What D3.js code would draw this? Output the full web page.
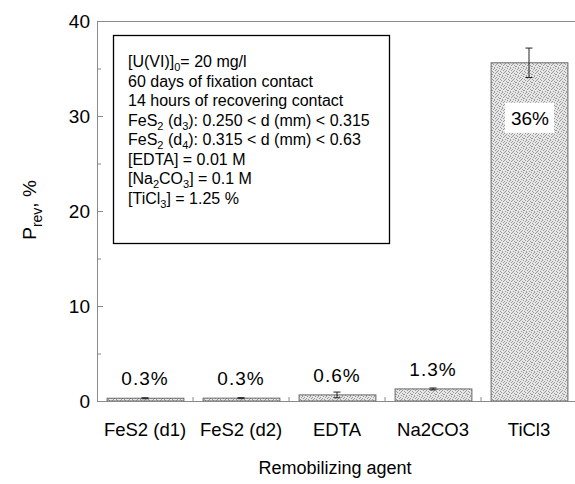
<!DOCTYPE html>
<html>
<head>
	<meta charset="utf-8">
	<title>Remobilization</title>
	<style>
		body { margin: 0; background: #fff; }
		svg { display: block; font-family: 'Liberation Sans', Arial, sans-serif; }
		.axis path, .axis line { stroke: #8a8a8a; }
		.axis text { font-size: 19px; fill: #000; }
	</style>
</head>
<body>
	<svg width="575" height="484"></svg>
<script src="https://d3js.org/d3.v7.min.js"></script>
<script>

	// data
	const categories = ['FeS2 (d1)', 'FeS2 (d2)', 'EDTA', 'Na2CO3', 'TiCl3']
	const values = [0.29, 0.3, 0.64, 1.27, 35.6]
	const errors = [0.05, 0.05, 0.3, 0.1, 1.55]
	const valueLabels = ['0.3%', '0.3%', '0.6%', '1.3%', '36%']
	const yTicks = [0, 10, 20, 30, 40]
	const yMinorTicks = [5, 15, 25, 35]

	// legend lines: [text, isSubscript]
	const notes = [
		[['[U(VI)]', 0], ['0', 1], ['= 20 mg/l', 0]],
		[['60 days of fixation contact', 0]],
		[['14 hours of recovering contact', 0]],
		[['FeS', 0], ['2', 1], [' (d', 0], ['3', 1], ['): 0.250 < d (mm) < 0.315', 0]],
		[['FeS', 0], ['2', 1], [' (d', 0], ['4', 1], ['): 0.315 < d (mm) < 0.63', 0]],
		[['[EDTA] = 0.01 M', 0]],
		[['[Na', 0], ['2', 1], ['CO', 0], ['3', 1], ['] = 0.1 M', 0]],
		[['[TiCl', 0], ['3', 1], ['] = 1.25 %', 0]]
	]

	const mLeft = 97, mRight = 577, mTop = 21, mBottom = 401

	const svg = d3.select('svg')

	// stippled fill (fixed dot layout in an 8x8 tile)
	const defs = svg.append('defs')
	const pat = defs.append('pattern')
		.attr('id', 'stipple')
		.attr('patternUnits', 'userSpaceOnUse')
		.attr('width', 8).attr('height', 8)
	pat.append('rect').attr('width', 8).attr('height', 8).attr('fill', '#e6e6e6')
	const dots = [[0,0],[5,0],[2,1],[7,1],[4,2],[1,3],[6,3],[3,4],[0,5],[5,5],
		[2,6],[7,6],[4,7],[1,7],[6,4],[3,2]]
	dots.forEach(p => {
		pat.append('rect').attr('x', p[0]).attr('y', p[1])
			.attr('width', 1).attr('height', 1).attr('fill', '#9a9a9a')
	})

	const x = d3.scaleBand()
		.domain(categories)
		.range([mLeft, mRight])
		.paddingInner(0.2)
		.paddingOuter(0.1)

	const y = d3.scaleLinear()
		.domain([0, 40])
		.range([mBottom, mTop])

	// frame
	svg.append('line')
		.attr('x1', mLeft).attr('x2', 575)
		.attr('y1', mTop + 0.5).attr('y2', mTop + 0.5)
		.attr('stroke', '#8a8a8a')

	// bars
	svg.selectAll('.bar')
		.data(values)
		.join('rect')
		.attr('class', 'bar')
		.attr('x', (d, i) => x(categories[i]) + 0.5)
		.attr('y', d => y(d))
		.attr('width', x.bandwidth())
		.attr('height', d => mBottom - y(d))
		.attr('fill', 'url(#stipple)')
		.attr('stroke', '#666')
		.attr('stroke-width', 1)

	// error bars
	const eb = svg.selectAll('.err')
		.data(values)
		.join('g')
		.attr('class', 'err')
		.attr('stroke', '#222')
		.attr('stroke-width', 1)
	eb.append('line')
		.attr('x1', (d, i) => x(categories[i]) + x.bandwidth() / 2)
		.attr('x2', (d, i) => x(categories[i]) + x.bandwidth() / 2)
		.attr('y1', (d, i) => y(d + errors[i]))
		.attr('y2', (d, i) => y(d - errors[i]))
	eb.selectAll('.cap')
		.data((d, i) => [[d + errors[i], i], [d - errors[i], i]])
		.join('line')
		.attr('x1', d => x(categories[d[1]]) + x.bandwidth() / 2 - 3.5)
		.attr('x2', d => x(categories[d[1]]) + x.bandwidth() / 2 + 3.5)
		.attr('y1', d => y(d[0]))
		.attr('y2', d => y(d[0]))

	// axes
	svg.append('g')
		.attr('class', 'axis')
		.attr('transform', `translate(${mLeft},0)`)
		.call(d3.axisLeft(y).tickValues(yMinorTicks).tickSizeInner(-4).tickSizeOuter(0).tickFormat(''))
		.call(g => g.select('.domain').remove())

	svg.append('g')
		.attr('class', 'axis')
		.attr('transform', `translate(${mLeft},0)`)
		.call(d3.axisLeft(y).tickValues(yTicks).tickSizeInner(-6).tickSizeOuter(0).tickPadding(7))
		.call(g => g.select('.domain').attr('d', `M0.5,${mTop}V${mBottom}`))

	const xAxis = svg.append('g')
		.attr('class', 'axis')
		.attr('transform', `translate(0,${mBottom})`)
		.call(d3.axisBottom(x).tickSize(0).tickPadding(22).tickSizeOuter(0))
	xAxis.select('.domain').attr('d', `M${mLeft},0.5H575`)
	xAxis.selectAll('text').style('font-size', '18.5px')

	// small ticks between categories
	svg.selectAll('.xtick')
		.data(categories.slice(1))
		.join('line')
		.attr('x1', d => x(d) - x.step() * x.paddingInner() / 2)
		.attr('x2', d => x(d) - x.step() * x.paddingInner() / 2)
		.attr('y1', mBottom)
		.attr('y2', mBottom - 4)
		.attr('stroke', '#8a8a8a')

	// value labels
	svg.selectAll('.vlab')
		.data(values.slice(0, 4))
		.join('text')
		.attr('class', 'vlab')
		.attr('x', (d, i) => x(categories[i]) + x.bandwidth() / 2)
		.attr('y', d => y(d) - 13)
		.attr('text-anchor', 'middle')
		.style('font-size', '19px')
		.style('letter-spacing', '1px')
		.text((d, i) => valueLabels[i])

	const last = values.length - 1
	const cx = x(categories[last]) + x.bandwidth() / 2
	svg.append('rect')
		.attr('x', cx - 24).attr('y', y(values[last]) + 40)
		.attr('width', 49).attr('height', 30)
		.attr('fill', '#fff')
	svg.append('text')
		.attr('x', cx + 1)
		.attr('y', y(values[last]) + 62)
		.attr('text-anchor', 'middle')
		.style('font-size', '19px')
		.text(valueLabels[last])

	// note box
	svg.append('rect')
		.attr('x', 113.5).attr('y', 35.5)
		.attr('width', 276).attr('height', 208)
		.attr('fill', '#fff')
		.attr('stroke', '#000')
		.attr('stroke-width', 1.3)

	notes.forEach((line, i) => {
		let t = svg.append('text')
			.attr('x', 128)
			.attr('y', 67 + i * 19.5)
			.style('font-size', '16px')
		let shifted = false
		line.forEach(seg => {
			let dy = 0
			if (seg[1] && !shifted) { dy = 4; shifted = true }
			else if (!seg[1] && shifted) { dy = -4; shifted = false }
			t.append('tspan')
				.attr('dy', dy)
				.style('font-size', seg[1] ? '11px' : '16px')
				.text(seg[0])
		})
	})

	// axis titles
	svg.append('text')
		.attr('x', 335).attr('y', 474)
		.attr('text-anchor', 'middle')
		.style('font-size', '18px')
		.text('Remobilizing agent')

	const yt = svg.append('text')
		.attr('transform', 'translate(36,210) rotate(-90)')
		.attr('text-anchor', 'middle')
		.style('font-size', '19px')
	yt.append('tspan').text('P')
	yt.append('tspan').attr('dy', 6).style('font-size', '14px').text('rev')
	yt.append('tspan').attr('dy', -6).text(',  %')

</script>
</body>
</html>
